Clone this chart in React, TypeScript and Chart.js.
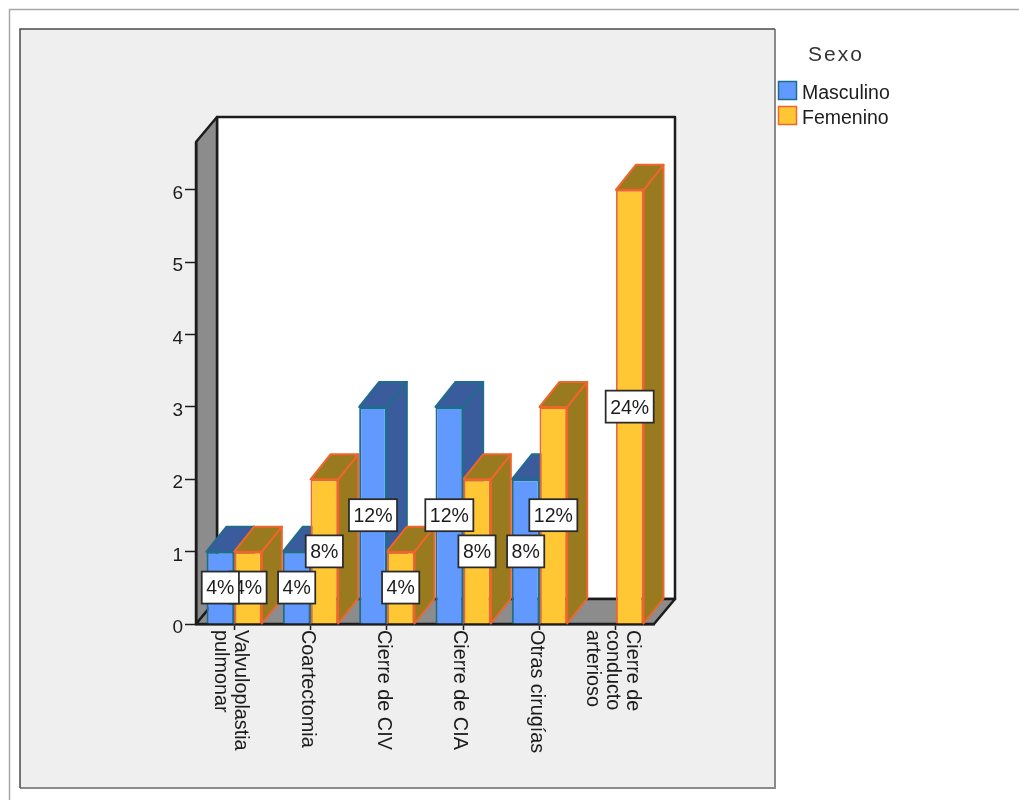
import React, { useEffect, useRef } from "react";
import { Chart, registerables } from "chart.js";

Chart.register(...registerables);

const categories: string[][] = [
  ["Valvuloplastia", "pulmonar"],
  ["Coartectomia"],
  ["Cierre de CIV"],
  ["Cierre de CIA"],
  ["Otras cirugías"],
  ["Cierre de", "conducto", "arterioso"],
];
const masculino: (number | null)[] = [1, 1, 3, 3, 2, null];
const femenino: (number | null)[] = [1, 2, 1, 2, 3, 6];
const masculinoPct: (string | null)[] = ["4%", "4%", "12%", "12%", "8%", null];
const femeninoPct: (string | null)[] = ["4%", "8%", "4%", "8%", "12%", "24%"];
const legendTitle = "Sexo";
const seriesNames = ["Masculino", "Femenino"];

const FONT = '"Liberation Sans", Arial, sans-serif';
const DEPTH_X = 20;
const DEPTH_Y = 25;
const INK = "#1c1c1c";
const AXIS_GUTTER = 60;

const seriesStyle = [
  { front: "#6199ff", edge: "#1f6c8c", side: "#3a5b9c" },
  { front: "#ffc733", edge: "#f0652b", side: "#9a7a1e" },
];

function poly(ctx: CanvasRenderingContext2D, pts: number[][], fill: string, stroke: string, lw: number) {
  ctx.beginPath();
  pts.forEach(([x, y], i) => (i ? ctx.lineTo(x, y) : ctx.moveTo(x, y)));
  ctx.closePath();
  ctx.fillStyle = fill;
  ctx.fill();
  ctx.strokeStyle = stroke;
  ctx.lineWidth = lw;
  ctx.lineJoin = "round";
  ctx.stroke();
}

// Page frame, grey panel and the three walls of the 3D box.
const backdrop = {
  id: "backdrop",
  beforeDraw(chart: Chart) {
    const { ctx, chartArea: a, width, height } = chart;
    ctx.save();
    ctx.fillStyle = "#ffffff";
    ctx.fillRect(0, 0, width, height);
    ctx.strokeStyle = "#a8a8a8";
    ctx.lineWidth = 1.5;
    ctx.beginPath();
    ctx.moveTo(9.5, height);
    ctx.lineTo(9.5, 9.5);
    ctx.lineTo(width, 9.5);
    ctx.stroke();

    ctx.fillStyle = "#efefef";
    ctx.fillRect(20, 29, 755, 759);
    ctx.strokeStyle = "#8a8a8a";
    ctx.lineWidth = 2;
    ctx.beginPath();
    ctx.moveTo(775, 29);
    ctx.lineTo(775, 788);
    ctx.lineTo(20, 788);
    ctx.stroke();
    ctx.strokeStyle = "#4a4a4a";
    ctx.lineWidth = 1.5;
    ctx.beginPath();
    ctx.moveTo(20, 788);
    ctx.lineTo(20, 29);
    ctx.lineTo(775, 29);
    ctx.stroke();

    const { left: l, right: r, top: t, bottom: b } = a;
    const dx = DEPTH_X + 1;
    poly(ctx, [[l + dx, t - DEPTH_Y], [r + dx, t - DEPTH_Y], [r + dx, b - DEPTH_Y], [l + dx, b - DEPTH_Y]], "#ffffff", INK, 2.5);
    poly(ctx, [[l, b], [l + dx, b - DEPTH_Y], [l + dx, t - DEPTH_Y], [l, t]], "#8c8c8c", INK, 2.5);
    poly(ctx, [[l, b], [l + dx, b - DEPTH_Y], [r + dx, b - DEPTH_Y], [r, b]], "#8c8c8c", INK, 2.5);
    ctx.restore();
  },
};

// Top and side faces of every bar, taken from the bar elements; the front faces are the bars themselves.
const barDepth = {
  id: "barDepth",
  beforeDatasetsDraw(chart: Chart) {
    const { ctx } = chart;
    ctx.save();
    chart.data.datasets.forEach((ds, di) => {
      const style = seriesStyle[di];
      chart.getDatasetMeta(di).data.forEach((el: any, i: number) => {
        if (ds.data[i] == null) return;
        const half = el.width / 2;
        const x0 = el.x - half;
        const x1 = el.x + half;
        const yt = el.y;
        const yb = el.base;
        poly(ctx, [[x1, yt], [x1 + DEPTH_X, yt - DEPTH_Y], [x1 + DEPTH_X, yb - DEPTH_Y], [x1, yb]], style.side, style.edge, 2);
        poly(ctx, [[x0, yt], [x0 + DEPTH_X, yt - DEPTH_Y], [x1 + DEPTH_X, yt - DEPTH_Y], [x1, yt]], style.side, style.edge, 2);
      });
    });
    ctx.restore();
  },
};

// Percent boxes centred on each bar; the first series is painted last so it sits on top.
const percentBoxes = {
  id: "percentBoxes",
  afterDatasetsDraw(chart: Chart) {
    const { ctx } = chart;
    const texts = [masculinoPct, femeninoPct];
    ctx.save();
    ctx.font = `19.5px ${FONT}`;
    ctx.textAlign = "center";
    ctx.textBaseline = "middle";
    for (let di = 1; di >= 0; di--) {
      chart.getDatasetMeta(di).data.forEach((el: any, i: number) => {
        const text = texts[di][i];
        if (!text) return;
        const cx = el.x;
        const cy = (el.y + el.base) / 2;
        const w = ctx.measureText(text).width + 9;
        const h = 32;
        ctx.fillStyle = "#ffffff";
        ctx.fillRect(cx - w / 2, cy - h / 2, w, h);
        ctx.strokeStyle = "#2a2a2a";
        ctx.lineWidth = 1.75;
        ctx.strokeRect(cx - w / 2, cy - h / 2, w, h);
        ctx.fillStyle = INK;
        ctx.fillText(text, cx, cy + 1.5);
      });
    }
    ctx.restore();
  },
};

// Category names turned to read downward, and the legend on the right.
const sideText = {
  id: "sideText",
  afterDraw(chart: Chart) {
    const { ctx } = chart;
    const xScale: any = chart.scales.x;
    ctx.save();
    ctx.fillStyle = INK;
    ctx.font = `19.8px ${FONT}`;
    ctx.textAlign = "left";
    ctx.textBaseline = "middle";
    const lineGap = 20;
    categories.forEach((lines, i) => {
      const cx = xScale.getPixelForValue(i) - 3.5;
      lines.forEach((line, li) => {
        const offset = ((lines.length - 1) / 2 - li) * lineGap;
        ctx.save();
        ctx.translate(cx + offset, xScale.bottom + 6);
        ctx.rotate(Math.PI / 2);
        ctx.fillText(line, 0, 0);
        ctx.restore();
      });
    });

    (ctx as any).letterSpacing = "2px";
    ctx.font = `21px ${FONT}`;
    ctx.fillStyle = "#333333";
    ctx.fillText(legendTitle, 808, 55);
    (ctx as any).letterSpacing = "0px";

    ctx.font = `19.5px ${FONT}`;
    seriesNames.forEach((name, i) => {
      const y = 81 + i * 25;
      ctx.fillStyle = seriesStyle[i].front;
      ctx.fillRect(778.5, y + 0.5, 18, 18);
      ctx.strokeStyle = seriesStyle[i].edge;
      ctx.lineWidth = 1.5;
      ctx.strokeRect(778.5, y + 0.5, 18, 18);
      ctx.fillStyle = INK;
      ctx.fillText(name, 802, y + 13);
    });
    ctx.restore();
  },
};

export default function App() {
  const ref = useRef<HTMLCanvasElement>(null);
  useEffect(() => {
    if (!ref.current) return;
    const chart = new Chart(ref.current, {
      type: "bar",
      data: {
        labels: categories.map((c) => c.join(" ")),
        datasets: [
          {
            label: seriesNames[0],
            data: masculino,
            backgroundColor: seriesStyle[0].front,
            borderColor: seriesStyle[0].edge,
            borderWidth: 2,
          },
          {
            label: seriesNames[1],
            data: femenino,
            backgroundColor: seriesStyle[1].front,
            borderColor: seriesStyle[1].edge,
            borderWidth: 2,
          },
        ],
      },
      options: {
        responsive: false,
        animation: false,
        devicePixelRatio: 1,
        layout: { padding: { left: 196 - AXIS_GUTTER, right: 365, top: 142, bottom: 176 } },
        datasets: { bar: { categoryPercentage: 0.725, barPercentage: 1 } },
        plugins: { legend: { display: false }, tooltip: { enabled: false } },
        scales: {
          x: {
            afterFit: (s: any) => { s.height = 0; },
            ticks: { display: false },
            border: { display: true, color: INK, width: 2.5 },
            grid: { offset: false, drawOnChartArea: false, drawTicks: true, tickLength: 6, tickColor: INK, tickWidth: 1.5 },
          },
          y: {
            min: 0,
            max: 6.66,
            afterFit: (s: any) => { s.width = AXIS_GUTTER; },
            ticks: { stepSize: 1, includeBounds: false, padding: 2, labelOffset: 4, color: INK, font: { family: FONT, size: 19 } },
            border: { display: true, color: INK, width: 2.5 },
            grid: { drawOnChartArea: false, drawTicks: true, tickLength: 11, tickColor: INK, tickWidth: 1.5 },
          },
        },
      } as any,
      plugins: [backdrop, barDepth, percentBoxes, sideText],
    });
    return () => chart.destroy();
  }, []);
  return (
    <div style={{ position: "absolute", left: 0, top: 0, width: 1019, height: 800 }}>
      <canvas ref={ref} width={1019} height={800} style={{ display: "block" }} />
    </div>
  );
}
